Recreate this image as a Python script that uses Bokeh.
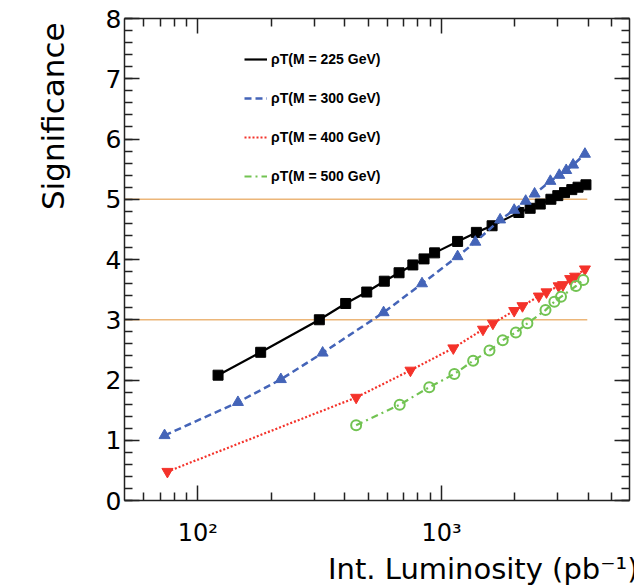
from bokeh.plotting import figure
from bokeh.models import (LogAxis, LinearAxis, FixedTicker, SingleIntervalTicker,
                          Legend, LegendItem, ColumnDataSource, Title)
from bokeh.embed import file_html
from bokeh.resources import INLINE

# ---------------- data ----------------
lumi_225 = [121, 181, 315, 404, 493, 582, 669, 762, 847, 936, 1163, 1389, 1611,
            2074, 2308, 2539, 2808, 2997, 3193, 3421, 3628, 3910]
sig_225 = [2.08, 2.46, 3.00, 3.27, 3.46, 3.64, 3.78, 3.91, 4.01, 4.11, 4.30, 4.45, 4.56,
           4.78, 4.85, 4.92, 5.00, 5.06, 5.11, 5.16, 5.20, 5.24]

lumi_300 = [73, 146, 219, 325, 578, 831, 1163, 1375, 1738, 1985, 2213, 2407, 2794,
            3040, 3245, 3463, 3873]
sig_300 = [1.08, 1.63, 2.01, 2.45, 3.12, 3.60, 4.05, 4.29, 4.66, 4.82, 4.97, 5.09, 5.30,
           5.40, 5.48, 5.57, 5.75]

lumi_400 = [75, 446, 745, 1117, 1478, 1623, 1985, 2146, 2505, 2693, 3020, 3147, 3368,
            3528, 3873]
sig_400 = [0.48, 1.71, 2.16, 2.53, 2.84, 2.94, 3.15, 3.23, 3.39, 3.46, 3.56, 3.58, 3.68,
           3.72, 3.84]

lumi_500 = [446, 673, 890, 1128, 1347, 1572, 1781, 2017, 2249, 2668, 2901, 3089, 3560, 3812]
sig_500 = [1.25, 1.59, 1.88, 2.10, 2.32, 2.49, 2.66, 2.79, 2.94, 3.16, 3.30, 3.38, 3.56, 3.66]

series_labels = ["ρT(M = 225 GeV)", "ρT(M = 300 GeV)", "ρT(M = 400 GeV)", "ρT(M = 500 GeV)"]

threshold_levels = [3, 5]
threshold_start = [50, 50]
threshold_end = [3960, 3960]

x_major_ticks = [100, 1000]
x_major_labels = {100: "10²", 1000: "10³"}
x_minor_ticks = [60, 70, 80, 90, 200, 300, 400, 500, 600, 700, 800, 900,
                 2000, 3000, 4000, 5000]

x_title = "Int. Luminosity (pb⁻¹)"
y_title = "Significance"

# ---------------- figure ----------------
FONT = "Liberation Sans"
AXFONT = "DejaVu Sans"

p = figure(width=634, height=585, x_axis_type="log", x_range=(50, 5900), y_range=(0, 8),
           output_backend="svg", toolbar_location=None,
           min_border_left=120, min_border_right=5, min_border_top=18, min_border_bottom=80)
p.grid.visible = False
p.outline_line_color = None
p.background_fill_color = "white"
p.border_fill_color = "white"

AX_COLOR = "#222222"


def style_axis(ax, show_labels=True):
    ax.axis_line_color = AX_COLOR
    ax.axis_line_width = 1.5
    ax.major_tick_line_color = AX_COLOR
    ax.minor_tick_line_color = AX_COLOR
    ax.major_tick_line_width = 1.5
    ax.minor_tick_line_width = 1.5
    ax.major_tick_in = 15
    ax.major_tick_out = 0
    ax.minor_tick_in = 8
    ax.minor_tick_out = 0
    ax.major_label_text_font = AXFONT
    ax.major_label_text_color = "black"
    if not show_labels:
        ax.major_label_text_font_size = "1px"
        ax.major_label_text_alpha = 0
        ax.major_label_standoff = 0


# bottom x axis
xa = p.xaxis[0]
xa.ticker = FixedTicker(ticks=x_major_ticks, minor_ticks=x_minor_ticks)
xa.major_label_overrides = x_major_labels
style_axis(xa)
xa.major_label_text_font_size = "24px"
xa.major_label_standoff = 18

# left y axis
ya = p.yaxis[0]
ya.ticker = SingleIntervalTicker(interval=1, num_minor_ticks=5)
style_axis(ya)
ya.major_label_text_font_size = "25px"
ya.major_label_standoff = 3

# mirror axes (top / right)
top_ax = LogAxis(ticker=FixedTicker(ticks=x_major_ticks, minor_ticks=x_minor_ticks))
style_axis(top_ax, show_labels=False)
p.add_layout(top_ax, "above")

right_ax = LinearAxis(ticker=SingleIntervalTicker(interval=1, num_minor_ticks=5))
style_axis(right_ax, show_labels=False)
p.add_layout(right_ax, "right")

# axis titles, right / top aligned like the original
p.add_layout(Title(text=x_title, align="right", offset=-9, standoff=0,
                   text_font=AXFONT, text_font_size="29px", text_font_style="normal",
                   text_color="black"), "below")
p.add_layout(Title(text=y_title, align="right", offset=4, standoff=64,
                   text_font=AXFONT, text_font_size="31px", text_font_style="normal",
                   text_color="black"), "left")

# threshold lines
thr_src = ColumnDataSource(dict(x0=threshold_start, x1=threshold_end,
                                y=threshold_levels))
p.segment(x0="x0", y0="y", x1="x1", y1="y", source=thr_src,
          line_color="#ecb679", line_width=1.6)

# series
c_black = "#000000"
c_blue = "#4464b8"
c_red = "#f4322a"
c_green = "#72c352"

l1 = p.line(lumi_225, sig_225, line_color=c_black, line_width=2.2)
p.scatter(lumi_225, sig_225, marker="square", size=10, fill_color=c_black, line_color=c_black)

l2 = p.line(lumi_300, sig_300, line_color=c_blue, line_width=2.5, line_dash="7 4")
p.scatter(lumi_300, sig_300, marker="triangle", size=11, fill_color=c_blue, line_color=c_blue)

l3 = p.line(lumi_400, sig_400, line_color=c_red, line_width=2.2, line_dash="2 2")
p.scatter(lumi_400, sig_400, marker="inverted_triangle", size=11, fill_color=c_red, line_color=c_red)

l4 = p.line(lumi_500, sig_500, line_color=c_green, line_width=2.2, line_dash="7 4 2 4")
p.scatter(lumi_500, sig_500, marker="circle", size=10, fill_color=None,
          line_color=c_green, line_width=2)

legend = Legend(items=[LegendItem(label=series_labels[0], renderers=[l1]),
                       LegendItem(label=series_labels[1], renderers=[l2]),
                       LegendItem(label=series_labels[2], renderers=[l3]),
                       LegendItem(label=series_labels[3], renderers=[l4])],
                location=(120, 316), padding=0, margin=0, spacing=23,
                glyph_width=23, glyph_height=14, label_height=14, label_standoff=4,
                background_fill_alpha=0, border_line_color=None,
                label_text_font=FONT, label_text_font_style="bold",
                label_text_font_size="14px", label_text_color="black")
p.add_layout(legend, "center")

open("out.html", "w").write(file_html(p, INLINE))
